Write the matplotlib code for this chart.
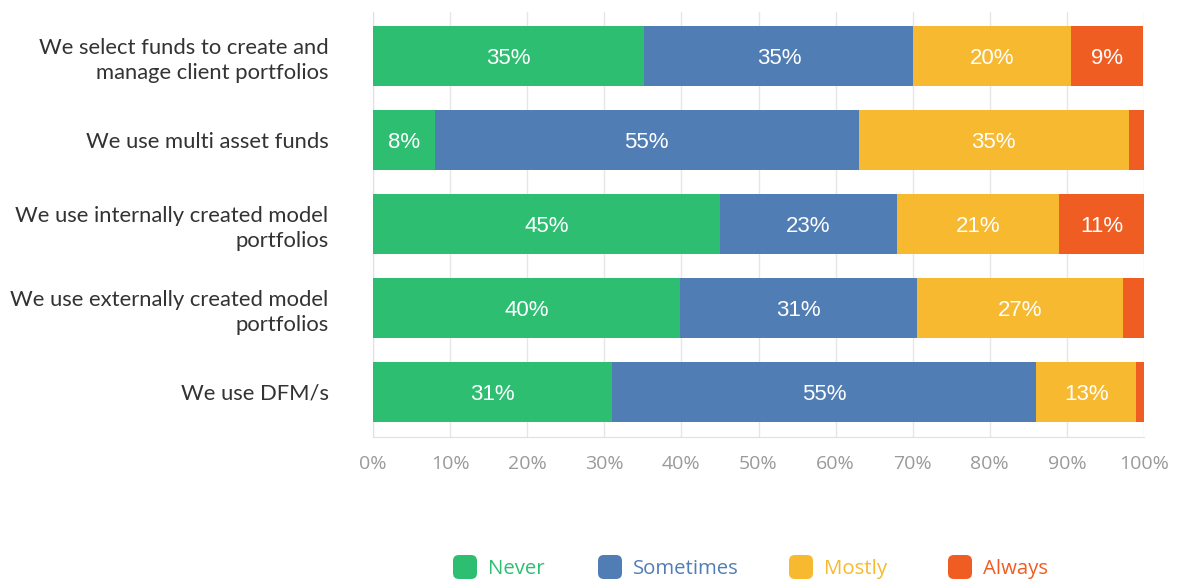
import numpy as np
import matplotlib.pyplot as plt
from matplotlib.patches import FancyBboxPatch

# kategorie i odpowiedzi (w %)
categories = [
    "We select funds to create and\nmanage client portfolios",
    "We use multi asset funds",
    "We use internally created model\nportfolios",
    "We use externally created model\nportfolios",
    "We use DFM/s",
]
series = ["Never", "Sometimes", "Mostly", "Always"]
never = [35.2, 8.0, 45.0, 39.8, 31.0]
sometimes = [34.9, 55.0, 23.0, 30.7, 55.0]
mostly = [20.4, 35.0, 21.0, 26.8, 13.0]
always = [9.4, 2.0, 11.0, 2.7, 1.0]
ticks = [0, 10, 20, 30, 40, 50, 60, 70, 80, 90, 100]

colors = ["#2dbe72", "#517db5", "#f7b92f", "#f05d23"]

W, H = 1180, 581
fig = plt.figure(figsize=(W / 100, H / 100), dpi=100)
ax = fig.add_axes([373 / W, 1 - 437 / H, 771 / W, 425 / H])

y = np.arange(len(categories))
left = np.zeros(len(categories))
for vals, col in zip([never, sometimes, mostly, always], colors):
    vals = np.array(vals)
    ax.barh(y, vals, left=left, height=0.714, color=col, zorder=3)
    for yi, l, v in zip(y, left, vals):
        if v >= 5:
            ax.text(l + v / 2, yi + 0.03, f"{v:.0f}%", ha="center", va="center",
                    color="white", fontsize=16, family="Liberation Sans", zorder=4)
    left += vals

ax.set_xlim(0, 100)
ax.set_ylim(4.536, -0.524)
ax.set_yticks(y)
ax.set_yticklabels(categories, fontsize=15.8, color="#333333", family="Lato",
                   linespacing=1.3)
ax.set_xticks(ticks)
ax.set_xticklabels([f"{t}%" for t in ticks], fontsize=14, color="#9a9a9a",
                   family="Open Sans")
ax.tick_params(axis="both", length=0)
ax.tick_params(axis="y", pad=32)
ax.tick_params(axis="x", pad=13)
ax.grid(axis="x", color="#e6e6e6", linewidth=1, zorder=0)
for s in ["top", "right"]:
    ax.spines[s].set_visible(False)
for s in ["left", "bottom"]:
    ax.spines[s].set_color("#e0e0e0")

# legenda rysowana ręcznie
leg_x = [453, 598, 789, 948]
for x, name, col in zip(leg_x, series, colors):
    box = FancyBboxPatch((x / W, 1 - 579 / H), 24 / W, 24 / H,
                         boxstyle="round,pad=0,rounding_size=0.005",
                         transform=fig.transFigure, facecolor=col,
                         edgecolor="none", mutation_aspect=W / H)
    fig.add_artist(box)
    fig.text((x + 35) / W, 1 - 569 / H, name, color=col, fontsize=14.7,
             family="Open Sans", va="center", ha="left")

fig.savefig("out.png", dpi=100)
